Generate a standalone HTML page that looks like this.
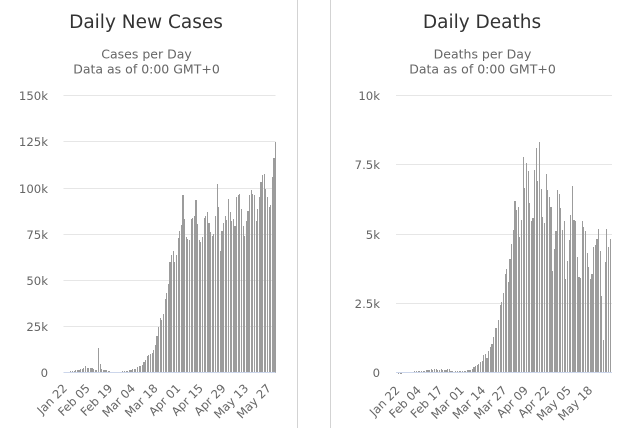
<!DOCTYPE html>
<html><head><meta charset="utf-8"><style>
html,body{margin:0;padding:0;background:#fff}
body{width:621px;height:428px;position:relative;overflow:hidden;font-family:"DejaVu Sans","Liberation Sans",sans-serif}
svg{position:absolute;left:0;top:0}
.b{position:absolute;display:flex;align-items:flex-end}
.b i{display:block;flex:1 1 0;min-width:0;margin:0 .25px;background:#9c9c9c}
.c i{height:calc(var(--v)*1.85px)}
.d i{height:calc(var(--v)*27.7px)}
</style></head><body>
<svg width="621" height="428" viewBox="0 0 621 428">
<g stroke="#d3d3d3" stroke-width="1"><line x1="297.5" y1="0" x2="297.5" y2="428"/><line x1="330.5" y1="0" x2="330.5" y2="428"/></g>
<g stroke="#e6e6e6" stroke-width="1">
<line x1="63.5" x2="275.5" y1="95.5" y2="95.5"/><line x1="63.5" x2="275.5" y1="141.5" y2="141.5"/><line x1="63.5" x2="275.5" y1="188.5" y2="188.5"/><line x1="63.5" x2="275.5" y1="234.5" y2="234.5"/><line x1="63.5" x2="275.5" y1="280.5" y2="280.5"/><line x1="63.5" x2="275.5" y1="326.5" y2="326.5"/>
<line x1="396" x2="612" y1="95.5" y2="95.5"/><line x1="396" x2="612" y1="164.5" y2="164.5"/><line x1="396" x2="612" y1="234.5" y2="234.5"/><line x1="396" x2="612" y1="303.5" y2="303.5"/>
</g>
<g font-size="18.5" fill="#333" text-anchor="middle"><text x="146" y="28">Daily New Cases</text><text x="482" y="28">Daily Deaths</text></g>
<g font-size="12.5" fill="#666" text-anchor="middle"><text x="146.5" y="58.5">Cases per Day</text><text x="146.5" y="73.5">Data as of 0:00 GMT+0</text><text x="482.5" y="58.5">Deaths per Day</text><text x="482.5" y="73.5">Data as of 0:00 GMT+0</text></g>
<g font-size="11.7" fill="#666" text-anchor="end">
<text x="48" y="100">150k</text><text x="48" y="146">125k</text><text x="48" y="193">100k</text><text x="48" y="239">75k</text><text x="48" y="285">50k</text><text x="48" y="331">25k</text><text x="48" y="377">0</text>
<text x="380" y="100">10k</text><text x="380" y="169">7.5k</text><text x="380" y="239">5k</text><text x="380" y="308">2.5k</text><text x="380" y="377">0</text>
</g>
<g font-size="11.7" fill="#666" text-anchor="end">
<text transform="translate(67.9,389) rotate(-45)">Jan 22</text>
<text transform="translate(90.6,389) rotate(-45)">Feb 05</text>
<text transform="translate(113.2,389) rotate(-45)">Feb 19</text>
<text transform="translate(135.9,389) rotate(-45)">Mar 04</text>
<text transform="translate(158.5,389) rotate(-45)">Mar 18</text>
<text transform="translate(181.2,389) rotate(-45)">Apr 01</text>
<text transform="translate(203.8,389) rotate(-45)">Apr 15</text>
<text transform="translate(226.5,389) rotate(-45)">Apr 29</text>
<text transform="translate(249.1,389) rotate(-45)">May 13</text>
<text transform="translate(271.8,389) rotate(-45)">May 27</text>
<text transform="translate(400.4,391) rotate(-45)">Jan 22</text>
<text transform="translate(421.8,391) rotate(-45)">Feb 04</text>
<text transform="translate(443.2,391) rotate(-45)">Feb 17</text>
<text transform="translate(464.7,391) rotate(-45)">Mar 01</text>
<text transform="translate(486.1,391) rotate(-45)">Mar 14</text>
<text transform="translate(507.5,391) rotate(-45)">Mar 27</text>
<text transform="translate(528.9,391) rotate(-45)">Apr 09</text>
<text transform="translate(550.3,391) rotate(-45)">Apr 22</text>
<text transform="translate(571.7,391) rotate(-45)">May 05</text>
<text transform="translate(593.1,391) rotate(-45)">May 18</text>
</g>
</svg>
<div class="b c" style="left:63.5px;top:95px;width:212px;height:278px">
<i style="--v:0.3"></i><i style="--v:0.3"></i><i style="--v:0.5"></i><i style="--v:0.7"></i><i style="--v:0.9"></i><i style="--v:1.1"></i><i style="--v:1.2"></i><i style="--v:1.4"></i><i style="--v:1.6"></i><i style="--v:1.8"></i>
<i style="--v:2.0"></i><i style="--v:2.2"></i><i style="--v:2.9"></i><i style="--v:3.6"></i><i style="--v:2.9"></i><i style="--v:2.9"></i><i style="--v:2.7"></i><i style="--v:2.5"></i><i style="--v:2.2"></i><i style="--v:1.8"></i>
<i style="--v:1.45"></i><i style="--v:13.6"></i><i style="--v:4.7"></i><i style="--v:2.4"></i><i style="--v:1.8"></i><i style="--v:1.6"></i><i style="--v:1.45"></i><i style="--v:1.1"></i><i style="--v:0.9"></i><i style="--v:0.5"></i>
<i style="--v:0.36"></i><i style="--v:0.7"></i><i style="--v:0.36"></i><i style="--v:0.4"></i><i style="--v:0.36"></i><i style="--v:0.5"></i><i style="--v:0.9"></i><i style="--v:1.1"></i><i style="--v:1.3"></i><i style="--v:1.3"></i>
<i style="--v:1.6"></i><i style="--v:1.8"></i><i style="--v:2.0"></i><i style="--v:2.2"></i><i style="--v:2.4"></i><i style="--v:3.3"></i><i style="--v:3.6"></i><i style="--v:3.6"></i><i style="--v:4.2"></i><i style="--v:6.0"></i>
<i style="--v:7.2"></i><i style="--v:9.0"></i><i style="--v:10.0"></i><i style="--v:10.5"></i><i style="--v:11"></i><i style="--v:12.3"></i><i style="--v:15"></i><i style="--v:20"></i><i style="--v:25"></i><i style="--v:30"></i>
<i style="--v:28.6"></i><i style="--v:32"></i><i style="--v:40"></i><i style="--v:43"></i><i style="--v:48"></i><i style="--v:60"></i><i style="--v:64"></i><i style="--v:66"></i><i style="--v:60"></i><i style="--v:64"></i>
<i style="--v:73"></i><i style="--v:77"></i><i style="--v:80"></i><i style="--v:96"></i><i style="--v:83"></i><i style="--v:73.5"></i><i style="--v:72.5"></i><i style="--v:72"></i><i style="--v:83"></i><i style="--v:84"></i>
<i style="--v:85"></i><i style="--v:93.5"></i><i style="--v:80.6"></i><i style="--v:72"></i><i style="--v:71"></i><i style="--v:73.5"></i><i style="--v:84"></i><i style="--v:85"></i><i style="--v:87"></i><i style="--v:81"></i>
<i style="--v:76"></i><i style="--v:74"></i><i style="--v:75"></i><i style="--v:85"></i><i style="--v:102"></i><i style="--v:90"></i><i style="--v:66"></i><i style="--v:77"></i><i style="--v:81"></i><i style="--v:85"></i>
<i style="--v:82.6"></i><i style="--v:94"></i><i style="--v:87"></i><i style="--v:82"></i><i style="--v:83"></i><i style="--v:79.7"></i><i style="--v:95"></i><i style="--v:96"></i><i style="--v:96.6"></i><i style="--v:88.4"></i>
<i style="--v:79.7"></i><i style="--v:74"></i><i style="--v:82"></i><i style="--v:87.5"></i><i style="--v:96"></i><i style="--v:98.8"></i><i style="--v:97"></i><i style="--v:96"></i><i style="--v:82"></i><i style="--v:88.4"></i>
<i style="--v:95"></i><i style="--v:103"></i><i style="--v:107"></i><i style="--v:107.5"></i><i style="--v:99.7"></i><i style="--v:95"></i><i style="--v:90"></i><i style="--v:91"></i><i style="--v:106"></i><i style="--v:116"></i>
<i style="--v:125"></i>
</div>
<div class="b d" style="left:396px;top:95px;width:215.7px;height:278px">
<i style="--v:0"></i><i style="--v:0.008"></i><i style="--v:0.016"></i><i style="--v:0.015"></i><i style="--v:0.024"></i><i style="--v:0.026"></i><i style="--v:0.026"></i><i style="--v:0.038"></i><i style="--v:0.043"></i><i style="--v:0.046"></i>
<i style="--v:0.045"></i><i style="--v:0.057"></i><i style="--v:0.064"></i><i style="--v:0.066"></i><i style="--v:0.073"></i><i style="--v:0.073"></i><i style="--v:0.086"></i><i style="--v:0.089"></i><i style="--v:0.097"></i><i style="--v:0.108"></i>
<i style="--v:0.097"></i><i style="--v:0.146"></i><i style="--v:0.121"></i><i style="--v:0.143"></i><i style="--v:0.142"></i><i style="--v:0.106"></i><i style="--v:0.098"></i><i style="--v:0.139"></i><i style="--v:0.115"></i><i style="--v:0.125"></i>
<i style="--v:0.096"></i><i style="--v:0.136"></i><i style="--v:0.15"></i><i style="--v:0.071"></i><i style="--v:0.064"></i><i style="--v:0.037"></i><i style="--v:0.058"></i><i style="--v:0.064"></i><i style="--v:0.069"></i><i style="--v:0.055"></i>
<i style="--v:0.089"></i><i style="--v:0.07"></i><i style="--v:0.08"></i><i style="--v:0.097"></i><i style="--v:0.102"></i><i style="--v:0.105"></i><i style="--v:0.16"></i><i style="--v:0.22"></i><i style="--v:0.24"></i><i style="--v:0.28"></i>
<i style="--v:0.34"></i><i style="--v:0.40"></i><i style="--v:0.42"></i><i style="--v:0.64"></i><i style="--v:0.68"></i><i style="--v:0.55"></i><i style="--v:0.78"></i><i style="--v:0.95"></i><i style="--v:1.06"></i><i style="--v:1.3"></i>
<i style="--v:1.62"></i><i style="--v:1.62"></i><i style="--v:1.92"></i><i style="--v:2.44"></i><i style="--v:2.56"></i><i style="--v:2.9"></i><i style="--v:3.576"></i><i style="--v:3.756"></i><i style="--v:3.276"></i><i style="--v:4.116"></i>
<i style="--v:4.656"></i><i style="--v:5.16"></i><i style="--v:6.192"></i><i style="--v:5.88"></i><i style="--v:5.976"></i><i style="--v:4.92"></i><i style="--v:5.52"></i><i style="--v:7.8"></i><i style="--v:6.672"></i><i style="--v:7.596"></i>
<i style="--v:7.296"></i><i style="--v:6.12"></i><i style="--v:5.496"></i><i style="--v:5.592"></i><i style="--v:7.32"></i><i style="--v:8.112"></i><i style="--v:6.936"></i><i style="--v:8.352"></i><i style="--v:6.636"></i><i style="--v:5.64"></i>
<i style="--v:5.4"></i><i style="--v:7.2"></i><i style="--v:6.6"></i><i style="--v:6.36"></i><i style="--v:6.0"></i><i style="--v:3.696"></i><i style="--v:4.476"></i><i style="--v:5.136"></i><i style="--v:6.6"></i><i style="--v:6.456"></i>
<i style="--v:5.952"></i><i style="--v:5.16"></i><i style="--v:5.472"></i><i style="--v:3.396"></i><i style="--v:4.032"></i><i style="--v:4.8"></i><i style="--v:5.712"></i><i style="--v:6.756"></i><i style="--v:5.52"></i><i style="--v:5.496"></i>
<i style="--v:4.2"></i><i style="--v:3.456"></i><i style="--v:3.432"></i><i style="--v:5.496"></i><i style="--v:5.28"></i><i style="--v:5.136"></i><i style="--v:4.32"></i><i style="--v:3.84"></i><i style="--v:3.396"></i><i style="--v:3.576"></i>
<i style="--v:4.536"></i><i style="--v:4.632"></i><i style="--v:4.836"></i><i style="--v:5.196"></i><i style="--v:4.416"></i><i style="--v:2.796"></i><i style="--v:1.176"></i><i style="--v:3.996"></i><i style="--v:5.196"></i><i style="--v:4.56"></i>
<i style="--v:4.836"></i>
</div>
<svg width="621" height="428" viewBox="0 0 621 428">
<g stroke="#ccd6eb" stroke-width="1"><line x1="63.5" x2="275.5" y1="372.5" y2="372.5"/><line x1="396" x2="612" y1="372.5" y2="372.5"/></g>
</svg>
</body></html>
